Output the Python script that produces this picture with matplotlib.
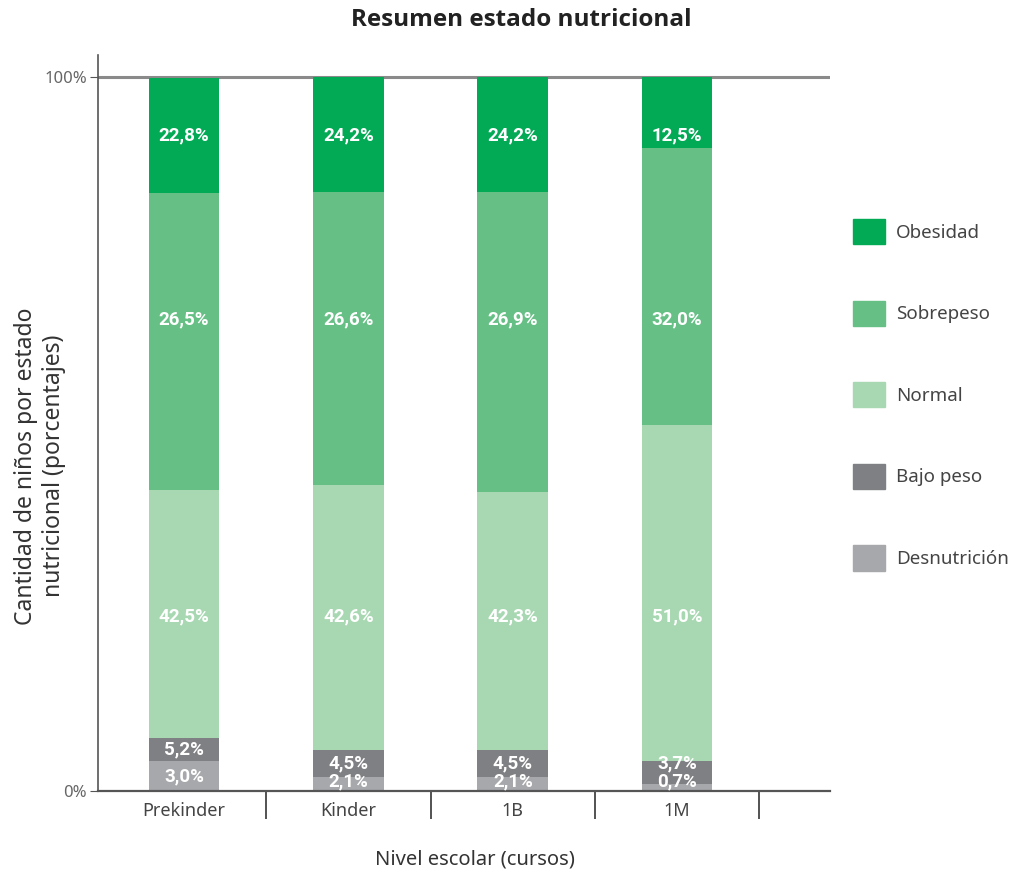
import matplotlib
matplotlib.use("Agg")
import matplotlib.pyplot as plt
from matplotlib.patches import Patch

plt.rcParams['font.family'] = ['Noto Sans', 'DejaVu Sans']

cursos = ['Prekinder', 'Kinder', '1B', '1M']
estados = ['Desnutrición', 'Bajo peso', 'Normal', 'Sobrepeso', 'Obesidad']

desnutricion = [4.2, 2.0, 2.0, 1.0]
bajo_peso = [3.2, 3.8, 3.8, 3.2]
normal = [34.7, 37.1, 36.1, 47.1]
sobrepeso = [41.7, 41.0, 42.0, 38.8]
obesidad = [16.1, 16.1, 16.1, 9.9]

# etiquetas impresas sobre cada segmento
txt_desnutricion = ['3,0%', '2,1%', '2,1%', '0,7%']
txt_bajo_peso = ['5,2%', '4,5%', '4,5%', '3,7%']
txt_normal = ['42,5%', '42,6%', '42,3%', '51,0%']
txt_sobrepeso = ['26,5%', '26,6%', '26,9%', '32,0%']
txt_obesidad = ['22,8%', '24,2%', '24,2%', '12,5%']

colores = ['#a7a8ab', '#7f8083', '#a8d8b2', '#66c086', '#03aa56']

series = [desnutricion, bajo_peso, normal, sobrepeso, obesidad]
textos = [txt_desnutricion, txt_bajo_peso, txt_normal, txt_sobrepeso, txt_obesidad]

W, H = 1021, 875
fig = plt.figure(figsize=(W / 100, H / 100), dpi=100)
ax = fig.add_axes([98 / W, 1 - 791 / H, (830 - 98) / W, (791 - 55) / H])

x = [i + 0.5 for i in range(len(cursos))]
ancho = 0.43
base = [0.0] * len(cursos)
for vals, col in zip(series, colores):
    ax.bar(x, vals, ancho, bottom=base, color=col, edgecolor='none', zorder=2)
    base = [b + v for b, v in zip(base, vals)]

# etiquetas: filas grandes a altura fija, filas chicas centradas en su segmento
y_fijas = {2: 24.4, 3: 66.1, 4: 91.9}
for i in range(len(cursos)):
    acum = 0.0
    y_prev = -10
    for k, vals in enumerate(series):
        if k in y_fijas:
            y = y_fijas[k]
        else:
            y = max(acum + vals[i] / 2, 1.3, y_prev + 2.5)
            y_prev = y
        ax.text(x[i], y, textos[k][i], ha='center', va='center', color='white',
                fontsize=13.5, fontweight='bold', family=['Roboto', 'DejaVu Sans'], zorder=3)
        acum += vals[i]

ax.set_xlim(-0.024, 4.43)
ax.set_ylim(0, 103.1)

ax.axhline(100, color='#8a8a8a', lw=2.2, zorder=1)

for s in ['top', 'right']:
    ax.spines[s].set_visible(False)
ax.spines['left'].set_color('#555555')
ax.spines['left'].set_linewidth(1.2)
ax.spines['bottom'].set_color('#555555')
ax.spines['bottom'].set_linewidth(1.6)

ax.set_yticks([0, 100])
ax.set_yticklabels(['0%', '100%'], fontsize=12, color='#666666')
ax.tick_params(axis='y', length=6, color='#555555', pad=2)

ax.set_xticks(x)
ax.set_xticklabels(cursos, fontsize=13, color='#444444')
ax.tick_params(axis='x', which='major', length=0, pad=8)
ax.set_xticks([1, 2, 3, 4], minor=True)
ax.tick_params(axis='x', which='minor', length=20, width=1.3, color='#444444')

fig.text(521 / W, 1 - 20 / H, 'Resumen estado nutricional', ha='center', va='center',
         fontsize=17.5, fontweight='bold', family=['Open Sans', 'DejaVu Sans'], color='#222222')
fig.text(475 / W, 1 - 860 / H, 'Nivel escolar (cursos)', ha='center', va='center',
         fontsize=14.5, color='#333333')
fig.text(40 / W, 1 - 466 / H, 'Cantidad de niños por estado\nnutricional (porcentajes)',
         ha='center', va='center', rotation=90, multialignment='center',
         fontsize=16.5, color='#333333', linespacing=1.25)

handles = [Patch(color=c) for c in colores[::-1]]
fig.legend(handles, estados[::-1], loc='upper left',
           bbox_to_anchor=(853 / W, 1 - 219 / H), frameon=False,
           fontsize=13.5, handlelength=1.7, handleheight=1.7, labelspacing=3.0,
           handletextpad=0.6, borderpad=0, borderaxespad=0, labelcolor='#444444')

fig.savefig('out.png', dpi=100)
